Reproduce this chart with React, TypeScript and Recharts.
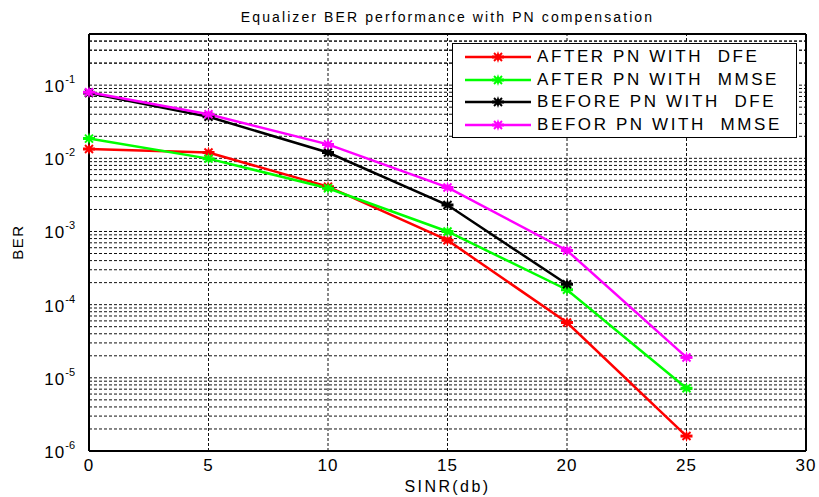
import React from "react";
import { LineChart, Line, XAxis, YAxis, ReferenceLine } from "recharts";

// SINR (dB) points and the BER
const sinr = [0, 5, 10, 15, 20, 25];
const afterDfe = [0.0134, 0.012, 0.0041, 0.00076, 0.000057, 0.0000016];
const afterMmse = [0.0186, 0.0099, 0.0039, 0.001, 0.00016, 0.0000072];
const beforeDfe = [0.078, 0.037, 0.012, 0.0023, 0.00019, null];
const beforeMmse = [0.08, 0.04, 0.0155, 0.004, 0.00055, 0.000019];

const xTicks = [0, 5, 10, 15, 20, 25, 30];
const decadeExps = [-6, -5, -4, -3, -2, -1];
const minorGrid = [
  ...decadeExps.flatMap((e) =>
    [1, 2, 3, 4, 5, 6, 7, 8, 9].map((m) => m * Math.pow(10, e)),
  ),
  0.2, 0.3, 0.4,
];

const series = [
  { key: "afterDfe", name: "AFTER PN WITH  DFE", color: "#ff0000" },
  { key: "afterMmse", name: "AFTER PN WITH  MMSE", color: "#00ff00" },
  { key: "beforeDfe", name: "BEFORE PN WITH  DFE", color: "#000000" },
  { key: "beforeMmse", name: "BEFOR PN WITH  MMSE", color: "#ff00ff" },
];

const data = sinr.map((x, i) => ({
  x,
  afterDfe: afterDfe[i],
  afterMmse: afterMmse[i],
  beforeDfe: beforeDfe[i],
  beforeMmse: beforeMmse[i],
}));

const FONT = "'Liberation Sans', Arial, Helvetica, sans-serif";

function StarDot(props: any) {
  const { cx, cy, stroke } = props;
  if (cx == null || cy == null || props.value == null) return null;
  const r = 5;
  return (
    <g>
      <polygon
        points={`${cx},${cy - r - 1} ${cx + 2},${cy} ${cx},${cy + r + 1} ${cx - 2},${cy}`}
        fill={stroke}
      />
      <line x1={cx - r - 1} y1={cy} x2={cx + r + 1} y2={cy} stroke={stroke} strokeWidth={3} />
      <line x1={cx - r + 1} y1={cy - r + 1} x2={cx + r - 1} y2={cy + r - 1} stroke={stroke} strokeWidth={2} />
      <line x1={cx - r + 1} y1={cy + r - 1} x2={cx + r - 1} y2={cy - r + 1} stroke={stroke} strokeWidth={2} />
    </g>
  );
}

function PowTick(props: any) {
  const { x, y, payload } = props;
  const exp = Math.round(Math.log10(payload.value));
  return (
    <text x={x - 6} y={y + 7} textAnchor="end" fontFamily={FONT} fill="#000">
      <tspan fontSize={17} letterSpacing={1}>10</tspan>
      <tspan fontSize={11} dy={-9}>{exp}</tspan>
    </text>
  );
}

function LegendBox() {
  return (
    <div
      style={{
        position: "absolute",
        left: 452,
        top: 43,
        width: 345,
        height: 95,
        border: "1px solid #000",
        background: "#fff",
        boxSizing: "border-box",
        paddingTop: 2,
        fontFamily: FONT,
      }}
    >
      {series.map((s) => (
        <div key={s.key} style={{ display: "flex", alignItems: "center", height: 22.5 }}>
          <svg width={84} height={14} style={{ flexShrink: 0 }}>
            <line x1={12} y1={7} x2={78} y2={7} stroke={s.color} strokeWidth={2.5} />
            <StarDot cx={45} cy={7} stroke={s.color} value={1} />
          </svg>
          <span style={{ fontSize: 17, whiteSpace: "pre", color: "#000", letterSpacing: 2.6 }}>
            {s.name}
          </span>
        </div>
      ))}
    </div>
  );
}

export default function App() {
  return (
    <div
      style={{
        position: "absolute",
        left: 0,
        top: 0,
        width: 819,
        height: 497,
        background: "#fff",
        fontFamily: FONT,
      }}
    >
      <LineChart
        width={819}
        height={497}
        data={data}
        margin={{ top: 34, right: 13, left: 0, bottom: 0 }}
      >
        <XAxis
          dataKey="x"
          type="number"
          domain={[0, 30]}
          ticks={xTicks}
          height={46}
          tickLine={false}
          axisLine={{ stroke: "#000", strokeWidth: 2 }}
          tick={{ fill: "#000", fontSize: 17, fontFamily: FONT, letterSpacing: 1 }}
          tickMargin={2}
        />
        <YAxis
          scale="log"
          type="number"
          domain={[1e-6, 0.5]}
          allowDataOverflow
          ticks={decadeExps.map((e) => Math.pow(10, e))}
          width={89}
          tickLine={false}
          axisLine={{ stroke: "#000", strokeWidth: 2 }}
          tick={<PowTick />}
        />
        {minorGrid.map((v) => (
          <ReferenceLine
            key={`h${v}`}
            y={v}
            stroke="#111"
            strokeWidth={1}
            strokeDasharray="3 2"
            ifOverflow="hidden"
          />
        ))}
        {xTicks.slice(1, -1).map((v) => (
          <ReferenceLine
            key={`v${v}`}
            x={v}
            stroke="#111"
            strokeWidth={1}
            strokeDasharray="3 2"
          />
        ))}
        <ReferenceLine y={0.5} stroke="#000" strokeWidth={2} />
        <ReferenceLine x={30} stroke="#000" strokeWidth={2} />
        {series.map((s) => (
          <Line
            key={s.key}
            dataKey={s.key}
            name={s.name}
            stroke={s.color}
            strokeWidth={2.5}
            dot={<StarDot />}
            activeDot={false}
            connectNulls={false}
            isAnimationActive={false}
          />
        ))}
      </LineChart>
      <LegendBox />
      <div
        style={{
          position: "absolute",
          top: 9,
          left: 89,
          width: 717,
          textAlign: "center",
          fontSize: 14,
          letterSpacing: 2.1,
          color: "#000",
        }}
      >
        Equalizer BER performance with PN compensation
      </div>
      <div
        style={{
          position: "absolute",
          top: 478,
          left: 89,
          width: 717,
          textAlign: "center",
          fontSize: 16,
          letterSpacing: 2.4,
          color: "#000",
        }}
      >
        SINR(db)
      </div>
      <div
        style={{
          position: "absolute",
          left: 17,
          top: 242,
          transform: "translate(-50%, -50%) rotate(-90deg)",
          fontSize: 15,
          letterSpacing: 1.5,
          color: "#000",
        }}
      >
        BER
      </div>
    </div>
  );
}
